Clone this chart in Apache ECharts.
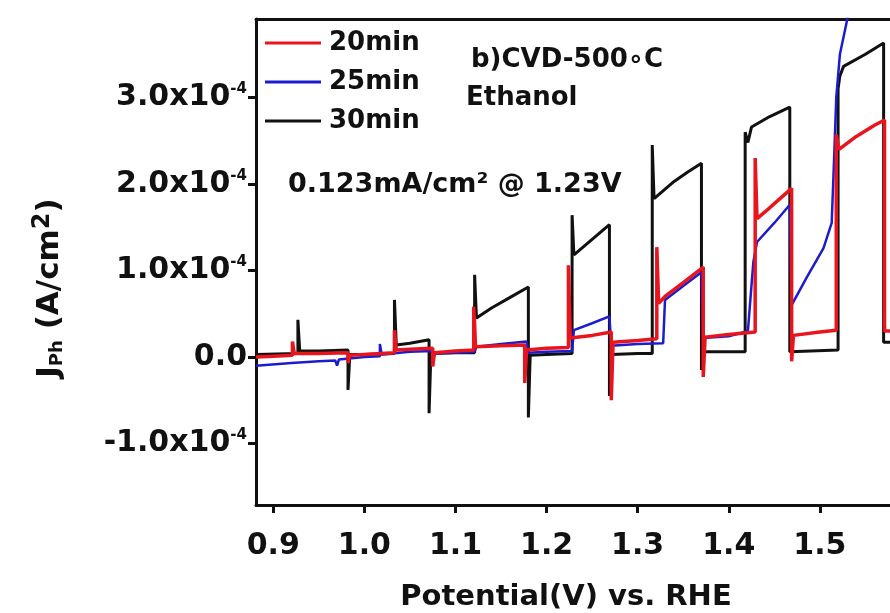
<!DOCTYPE html>
<html><head><meta charset="utf-8">
<script src="https://cdn.jsdelivr.net/npm/echarts@6/dist/echarts.min.js"></script>
<style>html,body{margin:0;padding:0;background:#fff}#c{width:890px;height:613px}</style>
</head><body><div id="c"></div>
<script>
// Potential (V vs RHE) and photocurrent density in units of 1e-4 A/cm^2
const legendNames = ['20min', '25min', '30min'];
const xTicks = [0.9, 1.0, 1.1, 1.2, 1.3, 1.4, 1.5];
const yTicks = [-1, 0, 1, 2, 3];

const v20 = [0.881,0.900,0.921,0.921,0.923,0.950,0.982,0.982,0.984,1.000,1.033,1.033,1.035,1.050,1.075,1.075,1.077,1.100,1.120,1.120,1.122,1.150,1.176,1.176,1.178,1.200,1.224,1.224,1.226,1.250,1.271,1.271,1.273,1.300,1.321,1.321,1.323,1.330,1.350,1.372,1.372,1.374,1.400,1.429,1.429,1.431,1.440,1.455,1.469,1.469,1.471,1.500,1.518,1.518,1.521,1.540,1.560,1.571,1.571,1.600];
const j20 = [0.00,0.01,0.02,0.18,0.04,0.04,0.05,-0.07,0.02,0.03,0.05,0.31,0.08,0.09,0.10,-0.11,0.05,0.07,0.08,0.58,0.12,0.13,0.14,-0.30,0.08,0.10,0.11,1.06,0.22,0.25,0.29,-0.50,0.17,0.19,0.21,1.27,0.62,0.70,0.86,1.04,-0.23,0.23,0.26,0.29,2.30,1.60,1.68,1.82,1.95,-0.05,0.25,0.29,0.31,2.57,2.40,2.55,2.68,2.74,0.30,0.30];

const v25 = [0.881,0.920,0.950,0.968,0.970,0.972,1.000,1.017,1.017,1.019,1.050,1.075,1.077,1.100,1.121,1.123,1.150,1.178,1.180,1.200,1.228,1.230,1.250,1.269,1.271,1.300,1.328,1.330,1.350,1.370,1.372,1.400,1.421,1.424,1.427,1.431,1.450,1.467,1.469,1.485,1.504,1.513,1.516,1.518,1.522,1.531,1.540];
const j25 = [-0.10,-0.07,-0.05,-0.04,-0.10,-0.03,0.00,0.01,0.15,0.03,0.06,0.07,0.04,0.05,0.06,0.12,0.15,0.18,0.05,0.06,0.07,0.31,0.39,0.47,0.13,0.15,0.16,0.66,0.82,0.98,0.22,0.24,0.30,0.70,1.10,1.33,1.55,1.76,0.60,0.91,1.26,1.55,2.40,3.00,3.50,3.95,4.30];

const v30 = [0.881,0.927,0.927,0.929,0.950,0.982,0.982,0.984,1.000,1.033,1.033,1.035,1.050,1.071,1.071,1.073,1.100,1.121,1.121,1.123,1.140,1.160,1.180,1.180,1.182,1.200,1.228,1.228,1.230,1.250,1.269,1.269,1.271,1.300,1.316,1.316,1.318,1.340,1.355,1.370,1.370,1.372,1.400,1.418,1.418,1.421,1.425,1.445,1.467,1.467,1.490,1.520,1.520,1.522,1.526,1.550,1.570,1.570,1.600];
const j30 = [0.03,0.04,0.43,0.07,0.07,0.08,-0.38,0.03,0.03,0.04,0.66,0.14,0.16,0.20,-0.65,0.04,0.05,0.05,0.95,0.45,0.57,0.69,0.81,-0.70,0.02,0.03,0.04,1.64,1.18,1.36,1.53,-0.45,0.03,0.04,0.04,2.45,1.83,2.03,2.14,2.24,-0.15,0.06,0.06,0.06,2.60,2.48,2.66,2.78,2.89,0.06,0.07,0.08,3.10,3.25,3.36,3.50,3.63,0.17,0.17];

const pair = (xs, ys) => xs.map((x, i) => [x, ys[i]]);
const FONT = '"DejaVu Sans", "Liberation Sans", sans-serif';
const axisLineStyle = {color: '#111', width: 3};

const chart = echarts.init(document.getElementById('c'), null, {renderer: 'canvas'});
chart.setOption({
  backgroundColor: '#fff',
  animation: false,
  grid: {left: 256, right: 0, top: 19, bottom: 108, outerBoundsMode: 'none', containLabel: false},
  legend: {
    data: legendNames, orient: 'vertical', left: 265, top: 28, padding: 0,
    icon: 'rect', itemWidth: 56, itemHeight: 3, itemGap: 9,
    textStyle: {fontFamily: FONT, fontWeight: 'bold', fontSize: 26, color: '#111', lineHeight: 30, padding: [0,0,0,3]}
  },
  xAxis: [{
    type: 'value', min: 0.881, max: 1.577, position: 'bottom',
    axisLine: {show: true, onZero: false, lineStyle: axisLineStyle},
    axisTick: {show: true, length: 8, lineStyle: axisLineStyle, customValues: xTicks},
    axisLabel: {customValues: xTicks, margin: 26, fontFamily: FONT, fontWeight: 'bold', fontSize: 30, color: '#111',
      formatter: v => v.toFixed(1)},
    splitLine: {show: false}
  }, {
    type: 'value', min: 0.881, max: 1.577, position: 'top',
    axisLine: {show: true, onZero: false, lineStyle: axisLineStyle},
    axisTick: {show: false}, axisLabel: {show: false}, splitLine: {show: false}
  }],
  yAxis: {
    type: 'value', min: -1.711, max: 3.908,
    axisLine: {show: true, onZero: false, lineStyle: axisLineStyle},
    axisTick: {show: true, length: 8, lineStyle: axisLineStyle, customValues: yTicks},
    axisLabel: {customValues: yTicks, margin: 9, color: '#111',
      formatter: v => Math.abs(v) < 1e-9 ? '{n|0.0}' : '{n|' + v.toFixed(1) + 'x10}{s|-4}',
      rich: {
        n: {fontFamily: FONT, fontWeight: 'bold', fontSize: 30, color: '#111'},
        s: {fontFamily: FONT, fontWeight: 'bold', fontSize: 15, color: '#111', padding: [0,0,16,0]}
      }
    },
    splitLine: {show: false}
  },
  series: [
    {name: '30min', type: 'line', data: pair(v30, j30), symbol: 'none', lineStyle: {color: '#111', width: 3}, itemStyle: {color: '#111'}, z: 2},
    {name: '25min', type: 'line', data: pair(v25, j25), symbol: 'none', lineStyle: {color: '#1c1ccf', width: 2.5}, itemStyle: {color: '#1c1ccf'}, z: 3},
    {name: '20min', type: 'line', data: pair(v20, j20), symbol: 'none', lineStyle: {color: '#e8141e', width: 3.5}, itemStyle: {color: '#e8141e'}, z: 4}
  ],
  graphic: [
    {type: 'text', x: 471, y: 60, style: {text: 'b)CVD-500∘C', font: 'bold 26px ' + FONT, fill: '#111', textVerticalAlign: 'middle'}},
    {type: 'text', x: 466, y: 98, style: {text: 'Ethanol', font: 'bold 26px ' + FONT, fill: '#111', textVerticalAlign: 'middle'}},
    {type: 'text', x: 288, y: 185, style: {text: '0.123mA/cm² @ 1.23V', font: 'bold 27px ' + FONT, fill: '#111', textVerticalAlign: 'middle'}},
    {type: 'text', x: 566, y: 597, style: {text: 'Potential(V) vs. RHE', font: 'bold 29px ' + FONT, fill: '#111', textAlign: 'center', textVerticalAlign: 'middle'}},
    {type: 'text', x: 50, y: 288, rotation: Math.PI / 2,
      style: {text: '{m|J}{sub|Ph}{m| (A/cm}{sup|2}{m|)}', textAlign: 'center', textVerticalAlign: 'middle',
        rich: {
          m: {fontFamily: FONT, fontWeight: 'bold', fontSize: 31, fill: '#111'},
          sub: {fontFamily: FONT, fontWeight: 'bold', fontSize: 18, fill: '#111', padding: [14,0,0,0]},
          sup: {fontFamily: FONT, fontWeight: 'bold', fontSize: 24, fill: '#111', padding: [0,0,14,0]}
        }}}
  ]
});
</script>
</body></html>
